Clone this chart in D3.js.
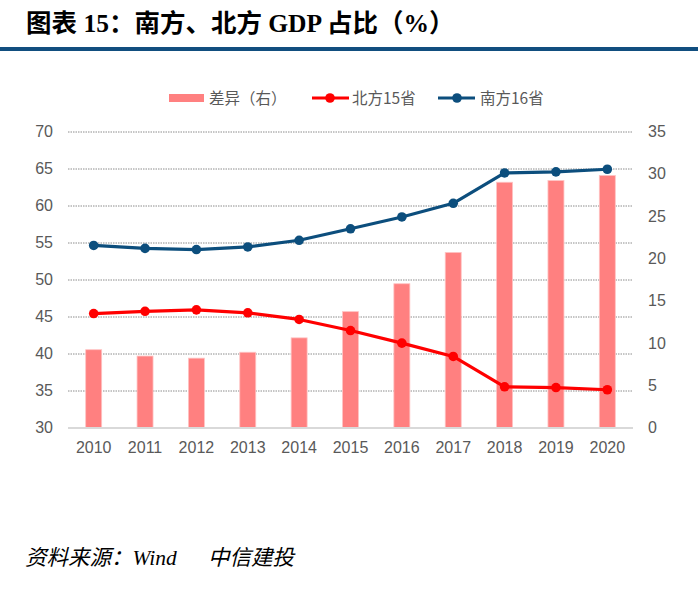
<!DOCTYPE html>
<html><head><meta charset="utf-8">
<script src="https://cdn.jsdelivr.net/npm/d3@7"></script>
<style>body{margin:0;background:#fff}svg{display:block}</style>
</head><body><svg id="c" width="698" height="592"></svg>
<script>
const years = ["2010","2011","2012","2013","2014","2015","2016","2017","2018","2019","2020"];
const south = [54.6,54.2,54.05,54.4,55.3,56.85,58.45,60.3,64.4,64.55,64.9];
const north = [45.4,45.7,45.9,45.5,44.6,43.1,41.4,39.6,35.5,35.4,35.1];
const diff  = [9.2,8.45,8.2,8.9,10.6,13.7,17.0,20.7,29.0,29.2,29.8];
const leftTicks = [30,35,40,45,50,55,60,65,70];
const rightTicks = [0,5,10,15,20,25,30,35];

const svg = d3.select("#c");
const L=68,R=633,T=131.5,B=427.5;
const x = d3.scaleBand().domain(years).range([L,R]);
const yL = d3.scaleLinear().domain([30,70]).range([B,T]);
const yR = d3.scaleLinear().domain([0,35]).range([B,T]);
const blue="#0c4e7d", red="#ff0000", pink="#ff8080", axisC="#595959";

// title
svg.append("text").attr("x",26).attr("y",32)
  .attr("font-family","'Liberation Serif','Noto Sans CJK SC'").attr("font-weight","bold")
  .attr("font-size",25.5).attr("fill","#000").text("图表 15：南方、北方 GDP 占比（%）");
svg.append("rect").attr("x",0).attr("y",47).attr("width",698).attr("height",4).attr("fill","#114e7f");

// grid
svg.append("g").selectAll("line").data(leftTicks.slice(1)).join("line")
  .attr("x1",L).attr("x2",R).attr("y1",d=>yL(d)+0.5).attr("y2",d=>yL(d)+0.5)
  .attr("stroke","#8c8c8c").attr("stroke-width",1).attr("stroke-dasharray","1.5,1");

// bars
const bw=16;
svg.append("g").selectAll("rect").data(diff).join("rect")
  .attr("x",(d,i)=>x(years[i])+x.bandwidth()/2-bw/2).attr("width",bw)
  .attr("y",d=>yR(d)).attr("height",d=>B-yR(d)).attr("fill",pink)
  .attr("stroke","#ffc4c4").attr("stroke-width",0.8);

// baseline
svg.append("line").attr("x1",L).attr("x2",R).attr("y1",B+0.5).attr("y2",B+0.5)
  .attr("stroke","#d9d9d9").attr("stroke-width",2);

// axes
const font="'Liberation Sans',Arial,sans-serif";
const la = svg.append("g").attr("transform",`translate(${L},0)`)
  .call(d3.axisLeft(yL).tickValues(leftTicks).tickSize(0).tickPadding(15));
const ra = svg.append("g").attr("transform",`translate(${R},0)`)
  .call(d3.axisRight(yR).tickValues(rightTicks).tickSize(0).tickPadding(15));
const xa = svg.append("g").attr("transform",`translate(0,${B})`)
  .call(d3.axisBottom(x).tickSize(0).tickPadding(14));
[la,ra,xa].forEach(g=>{g.select(".domain").remove();
  g.selectAll("text").attr("font-family",font).attr("font-size",16).attr("fill",axisC);});

// lines
const cx = d=>x(d)+x.bandwidth()/2;
function series(vals,color){
  const line=d3.line().x((d,i)=>cx(years[i])).y(d=>yL(d));
  svg.append("path").datum(vals).attr("d",line).attr("fill","none")
    .attr("stroke",color).attr("stroke-width",3.2).attr("stroke-linejoin","round");
  svg.append("g").selectAll("circle").data(vals).join("circle")
    .attr("cx",(d,i)=>cx(years[i])).attr("cy",d=>yL(d)).attr("r",4.8).attr("fill",color);
}
series(north,red);
series(south,blue);

// legend
const lg = svg.append("g").attr("font-family","'Noto Sans CJK SC',sans-serif").attr("font-size",15.5).attr("fill",axisC);
lg.append("rect").attr("x",169).attr("y",94).attr("width",35).attr("height",8).attr("fill",pink);
lg.append("text").attr("x",209).attr("y",104).text("差异（右）");
lg.append("line").attr("x1",312).attr("x2",349).attr("y1",98).attr("y2",98).attr("stroke",red).attr("stroke-width",3.2);
lg.append("circle").attr("cx",330).attr("cy",98).attr("r",4.8).attr("fill",red);
lg.append("text").attr("x",352).attr("y",104).text("北方15省");
lg.append("line").attr("x1",438).attr("x2",475).attr("y1",98).attr("y2",98).attr("stroke",blue).attr("stroke-width",3.2);
lg.append("circle").attr("cx",457).attr("cy",98).attr("r",4.8).attr("fill",blue);
lg.append("text").attr("x",480).attr("y",104).text("南方16省");

// footer
const ff = svg.append("g").attr("font-family","'Liberation Serif','Noto Sans CJK SC'").attr("font-style","italic")
  .attr("font-size",21.5).attr("fill","#000");
ff.append("text").attr("x",25).attr("y",565).text("资料来源：Wind");
ff.append("text").attr("x",208).attr("y",565).text("中信建投");
</script></body></html>
